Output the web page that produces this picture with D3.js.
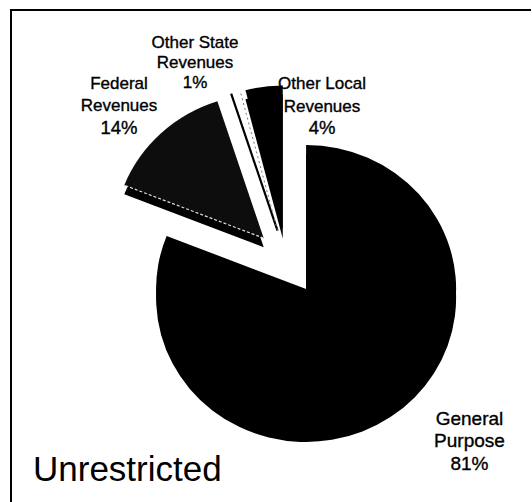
<!DOCTYPE html>
<html>
<head>
<meta charset="utf-8">
<script src="https://cdn.jsdelivr.net/npm/d3@7"></script>
<style>
  html, body { margin: 0; padding: 0; background: #fff; }
  svg { display: block; }
  text { font-family: "Liberation Sans", Arial, sans-serif; fill: #000; }
  text.lbl { stroke: #000; stroke-width: 0.35px; }
</style>
</head>
<body>
<svg id="chart" width="532" height="502"></svg>
<script>
// ---- data ----
const categories = ["General Purpose", "Federal Revenues", "Other State Revenues", "Other Local Revenues"];
const values = [81, 14, 1, 4];
const percentLabels = ["81%", "14%", "1%", "4%"];
const labelLines = [["General", "Purpose"], ["Federal", "Revenues"], ["Other State", "Revenues"], ["Other Local", "Revenues"]];
const chartTitle = "Unrestricted";

// ---- style / layout ----
const topFills = ["#000", "#0d0d0d", "#fff", "#000"];
const sideFills = ["#000", "#000", "#fff", "#000"];
const W = 532, H = 502;
const cx = 287, cy = 262, R = 150, squash = 0.96, explode = 34, depth = 9;

const svg = d3.select("#chart");

// frame (top and left lines)
svg.append("path")
  .attr("d", `M11,${H} V10 H531`)
  .attr("fill", "none").attr("stroke", "#000").attr("stroke-width", 2);

const pie = d3.pie().sort(null).value(d => d).startAngle(0).endAngle(2 * Math.PI);
const arcs = pie(values);
const arc = d3.arc().innerRadius(0).outerRadius(R);

const root = svg.append("g").attr("transform", `translate(${cx},${cy}) scale(1,${squash})`);

function offset(a) {
  const m = (a.startAngle + a.endAngle) / 2;
  return d3.pointRadial(m, explode);
}

// side faces first
root.selectAll("path.side").data(arcs).join("path")
  .attr("class", "side")
  .attr("transform", d => { const o = offset(d); return `translate(${o[0]},${o[1] + depth / squash})`; })
  .attr("d", arc)
  .attr("fill", (d, i) => sideFills[i]);

// top faces
const tops = root.selectAll("g.top").data(arcs).join("g")
  .attr("class", "top")
  .attr("transform", d => { const o = offset(d); return `translate(${o[0]},${o[1]})`; });

tops.append("path")
  .attr("d", arc)
  .attr("fill", (d, i) => topFills[i]);

// Federal slice: light dotted rim along the front edge
tops.filter((d, i) => i === 1).append("line")
  .attr("x1", 0).attr("y1", 0)
  .attr("x2", d => d3.pointRadial(d.startAngle, R)[0])
  .attr("y2", d => d3.pointRadial(d.startAngle, R)[1])
  .attr("stroke", "#e0e0e0").attr("stroke-width", 1.2)
  .attr("stroke-dasharray", "3,2")
  .attr("vector-effect", "non-scaling-stroke");

// Other State slice: dark left edge, faint right edge
const st = tops.filter((d, i) => i === 2);
st.append("line")
  .attr("x1", 0).attr("y1", 0)
  .attr("x2", d => d3.pointRadial(d.startAngle, R)[0])
  .attr("y2", d => d3.pointRadial(d.startAngle, R)[1])
  .attr("stroke", "#000").attr("stroke-width", 2.2)
  .attr("vector-effect", "non-scaling-stroke");
st.append("line")
  .attr("x1", 0).attr("y1", 0)
  .attr("x2", d => d3.pointRadial(d.endAngle, R)[0])
  .attr("y2", d => d3.pointRadial(d.endAngle, R)[1])
  .attr("stroke", "#777").attr("stroke-width", 1)
  .attr("stroke-dasharray", "2,3")
  .attr("vector-effect", "non-scaling-stroke");

// ---- labels ----
const labelPos = [
  { x: 469.5, y: 424.5, size: 19, step: 22.5, pctSize: 19 },
  { x: 119, y: 88.5, size: 17, step: 22.8, pctSize: 18.5 },
  { x: 195, y: 48, size: 17, step: 20, pctSize: 17 },
  { x: 322, y: 89, size: 17, step: 22.5, pctSize: 18.5 }
];

categories.forEach((c, i) => {
  const p = labelPos[i];
  const t = svg.append("text").attr("class", "lbl").attr("text-anchor", "middle");
  labelLines[i].forEach((ln, j) => {
    t.append("tspan").attr("x", p.x).attr("y", p.y + j * p.step)
      .attr("font-size", p.size).text(ln);
  });
  t.append("tspan").attr("x", p.x).attr("y", p.y + 2 * p.step)
    .attr("font-size", p.pctSize).text(percentLabels[i]);
});

svg.append("text")
  .attr("x", 33).attr("y", 481)
  .attr("font-size", 35)
  .text(chartTitle);
</script>
</body>
</html>
